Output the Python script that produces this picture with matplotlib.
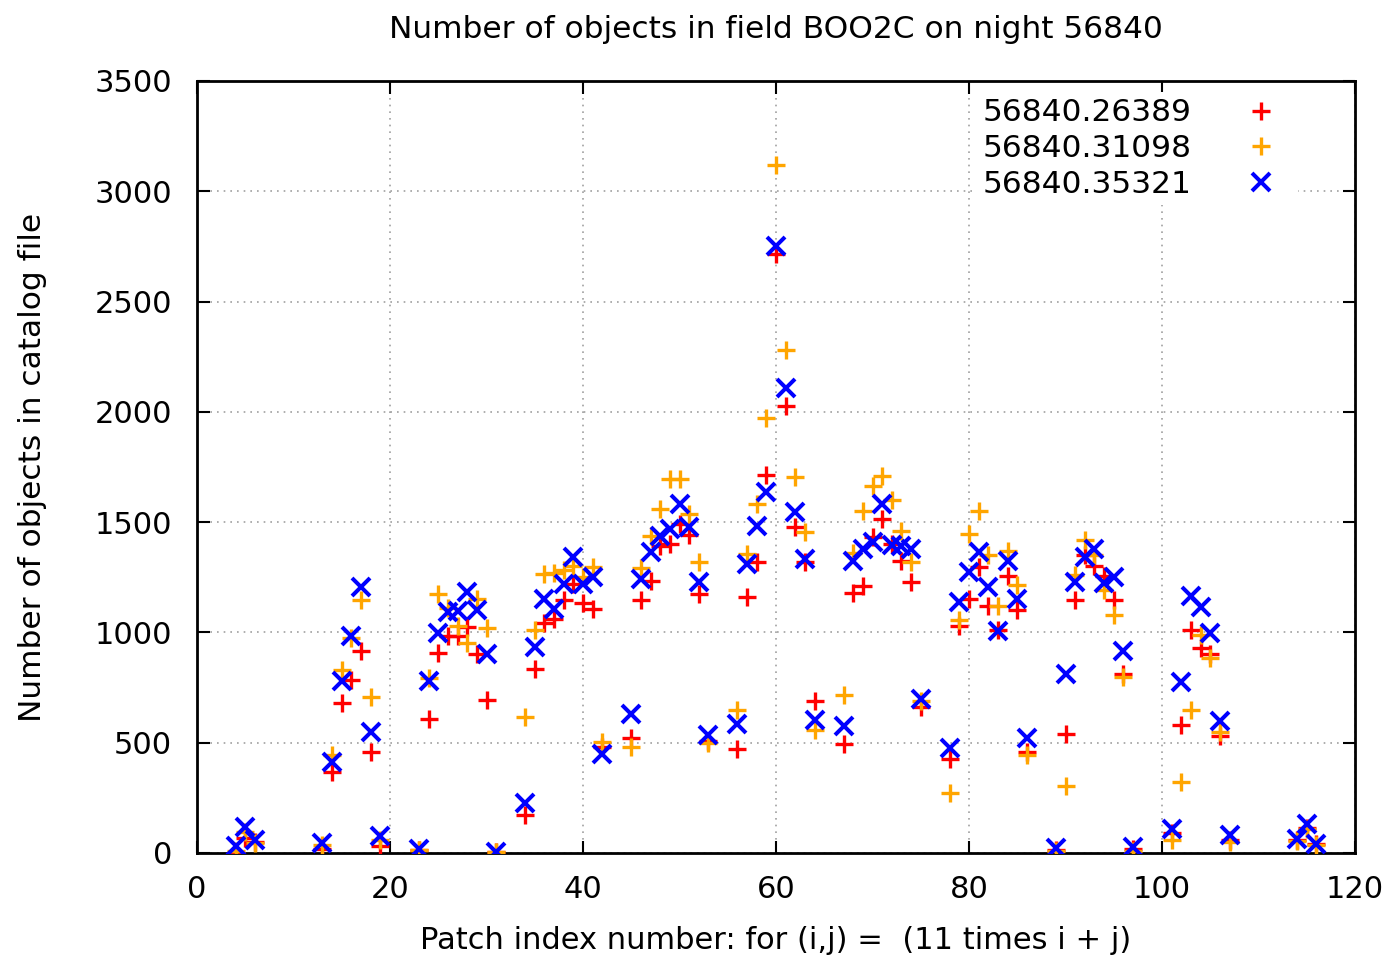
import matplotlib
matplotlib.use('Agg')
import matplotlib.pyplot as plt

# Patch index numbers (11*i + j)
patch = [4, 5, 6, 13, 14, 15, 16, 17, 18, 19, 23, 24, 25, 26, 27, 28, 29, 30, 31,
         34, 35, 36, 37, 38, 39, 40, 41, 42, 45, 46, 47, 48, 49, 50, 51, 52, 53,
         56, 57, 58, 59, 60, 61, 62, 63, 64, 67, 68, 69, 70, 71, 72, 73, 74, 75,
         78, 79, 80, 81, 82, 83, 84, 85, 86, 89, 90, 91, 92, 93, 94, 95, 96, 97,
         101, 102, 103, 104, 105, 106, 107, 114, 115, 116]

n_26389 = [0, 70, 50, 20, 368, 679, 783, 918, 458, 30, 15, 606, 905, 986, 986, 1024, 900, 692, 5,
           172, 832, 1042, 1060, 1145, 1221, 1135, 1108, 480, 520, 1145, 1235, 1394, 1401, 1493, 1440, 1175, 510,
           470, 1160, 1318, 1712, 2714, 2027, 1480, 1318, 689, 493, 1180, 1210, 1432, 1515, 1400, 1326, 1228, 662,
           425, 1030, 1152, 1296, 1122, 1009, 1258, 1100, 460, 15, 541, 1147, 1350, 1300, 1258, 1145, 810, 20,
           92, 579, 1012, 931, 900, 529, 60, 60, 115, 40]

n_31098 = [10, 95, 45, 35, 443, 828, 975, 1145, 707, 60, 15, 795, 1175, 1110, 1030, 950, 1150, 1020, 5,
           615, 1009, 1267, 1270, 1281, 1300, 1250, 1295, 504, 481, 1290, 1439, 1559, 1695, 1695, 1537, 1318, 498,
           647, 1357, 1584, 1974, 3118, 2279, 1703, 1454, 557, 715, 1360, 1552, 1665, 1710, 1600, 1461, 1318, 690,
           271, 1058, 1447, 1552, 1349, 1122, 1371, 1213, 443, 10, 303, 1260, 1421, 1350, 1191, 1077, 800, 10,
           60, 320, 650, 990, 885, 550, 50, 55, 110, 35]

n_35321 = [30, 118, 60, 45, 413, 778, 982, 1208, 549, 77, 20, 780, 997, 1092, 1095, 1182, 1100, 900, 5,
           226, 932, 1153, 1108, 1221, 1341, 1221, 1250, 448, 629, 1243, 1364, 1439, 1469, 1582, 1480, 1228, 534,
           584, 1312, 1484, 1635, 2754, 2107, 1544, 1333, 605, 575, 1326, 1379, 1410, 1582, 1395, 1390, 1379, 700,
           478, 1137, 1273, 1364, 1205, 1005, 1326, 1152, 523, 21, 813, 1228, 1341, 1379, 1223, 1250, 916, 26,
           107, 775, 1163, 1115, 997, 599, 81, 62, 131, 41]

labels = ['56840.26389', '56840.31098', '56840.35321']
xticks = [0, 20, 40, 60, 80, 100, 120]
yticks = [0, 500, 1000, 1500, 2000, 2500, 3000, 3500]

plt.rcParams['font.family'] = ['DejaVu Sans']
FS = 22.5
TFS = 22

fig = plt.figure(figsize=(13.92, 9.61), dpi=100)
ax = fig.add_axes([197/1392, 1 - 853/961, (1355-197)/1392, (853-81)/961])

ax.plot(patch, n_26389, linestyle='none', marker='+', color='red',
        markersize=13.5, markeredgewidth=2.4, label=labels[0], zorder=3)
ax.plot(patch, n_31098, linestyle='none', marker='+', color='orange',
        markersize=13.5, markeredgewidth=2.4, label=labels[1], zorder=3)
ax.plot(patch, n_35321, linestyle='none', marker='x', color='blue',
        markersize=13.5, markeredgewidth=2.9, label=labels[2], zorder=3)

ax.set_xlim(0, 120)
ax.set_ylim(0, 3500)
ax.set_xticks(xticks)
ax.set_yticks(yticks)
ax.tick_params(direction='in', length=9, width=1.5, top=True, right=True,
               labelsize=TFS, colors='black')
ax.tick_params(axis='x', pad=15.5)
ax.tick_params(axis='y', pad=18)
ax.grid(True, linestyle=(0, (1, 3)), color='#a0a0a0', linewidth=1.2)
ax.set_axisbelow(True)
for s in ax.spines.values():
    s.set_linewidth(2)

ax.set_title('Number of objects in field BOO2C on night 56840', fontsize=FS, pad=31)
ax.set_xlabel('Patch index number: for (i,j) =  (11 times i + j)', fontsize=22, labelpad=16.5)
ax.set_ylabel('Number of objects in catalog file', fontsize=FS, labelpad=34)

leg = ax.legend(loc='upper right', bbox_to_anchor=(0.9508, 0.9855), markerfirst=False,
                fontsize=FS, frameon=True, fancybox=False, edgecolor='none',
                facecolor='white', framealpha=1, borderpad=0.2, borderaxespad=0,
                labelspacing=0.21, handletextpad=1.2, handlelength=2, numpoints=1)

fig.savefig('out.png', dpi=100)
